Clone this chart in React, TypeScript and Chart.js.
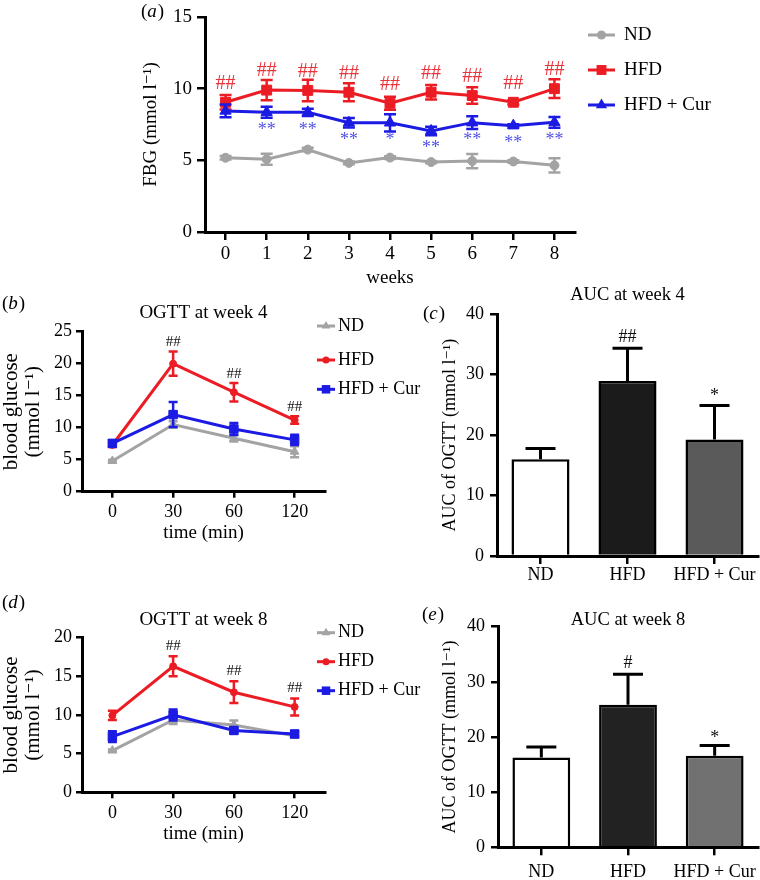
import React, { useEffect, useRef } from 'react';
import { Chart, registerables } from 'chart.js';

Chart.register(...registerables);

const FONT = '"Liberation Serif", "Times New Roman", "DejaVu Serif", serif';
Chart.defaults.font.family = FONT;

const GRAY = '#a3a3a3';
const RED = '#ec1c24';
const BLUE = '#1b1be3';
const RED_MARK = '#e8333a';
const BLUE_MARK = '#5252e6';

// ---------- (a) fasting blood glucose over weeks ----------
const weekLabels = ['0', '1', '2', '3', '4', '5', '6', '7', '8'];
const fbgND = [5.18, 5.08, 5.75, 4.82, 5.19, 4.88, 4.95, 4.92, 4.65];
const fbgNDErr = [0.12, 0.38, 0.12, 0.1, 0.1, 0.08, 0.5, 0.08, 0.5];
const fbgHFD = [9.05, 9.9, 9.88, 9.75, 8.98, 9.75, 9.52, 9.05, 10.0];
const fbgHFDErr = [0.5, 0.7, 0.75, 0.62, 0.45, 0.5, 0.58, 0.15, 0.65];
const fbgCur = [8.45, 8.35, 8.35, 7.62, 7.62, 7.05, 7.63, 7.42, 7.65];
const fbgCurErr = [0.45, 0.38, 0.25, 0.33, 0.6, 0.3, 0.45, 0.1, 0.38];
const fbgHFDSig = ['##', '##', '##', '##', '##', '##', '##', '##', '##'];
const fbgCurSig = ['', '**', '**', '**', '*', '**', '**', '**', '**'];

// ---------- (b) OGTT week 4 ----------
const timeLabels = ['0', '30', '60', '120'];
const ogtt4ND = [4.8, 10.5, 8.35, 6.25];
const ogtt4NDErr = [0.2, 0.5, 0.5, 0.85];
const ogtt4HFD = [7.3, 20.0, 15.55, 11.2];
const ogtt4HFDErr = [0.3, 1.9, 1.45, 0.6];
const ogtt4Cur = [7.55, 12.05, 9.8, 8.1];
const ogtt4CurErr = [0.5, 1.95, 0.95, 0.8];
const ogtt4HFDSig = ['', '##', '##', '##'];

// ---------- (c) AUC week 4 ----------
const groupLabels = ['ND', 'HFD', 'HFD + Cur'];
const auc4 = [16.0, 28.95, 19.3];
const auc4Err = [1.8, 5.45, 5.6];
const auc4Sig = ['', '##', '*'];

// ---------- (d) OGTT week 8 ----------
const ogtt8ND = [5.4, 9.35, 8.7, 7.3];
const ogtt8NDErr = [0.15, 0.5, 0.6, 0.2];
const ogtt8HFD = [9.95, 16.3, 12.95, 11.05];
const ogtt8HFDErr = [0.6, 1.3, 1.4, 1.1];
const ogtt8Cur = [7.2, 10.0, 8.0, 7.55];
const ogtt8CurErr = [0.7, 0.7, 0.35, 0.35];
const ogtt8HFDSig = ['', '##', '##', '##'];

// ---------- (e) AUC week 8 ----------
const auc8 = [16.3, 25.85, 16.6];
const auc8Err = [1.9, 5.55, 1.85];
const auc8Sig = ['', '#', '*'];

const legendNames = ['ND', 'HFD', 'HFD + Cur'];

type Series = {
  label: string;
  values: number[];
  errors: number[];
  color: string;
  pointStyle: string;
  radius: number;
  order: number;
};

type Mark = {
  series: number;
  texts: string[];
  color: string;
  size: number;
  dir: 'up' | 'down';
  useErr: boolean;
  gap: number;
};

type PanelSpec = {
  id: string;
  x: number;
  y: number;
  w: number;
  h: number;
  area: { l: number; t: number; r: number; b: number };
  kind: 'line' | 'bar';
  labels: string[];
  series?: Series[];
  bars?: { values: number[]; errors: number[]; colors: string[] };
  yMax: number;
  yStep: number;
  tickSize: number;
  xTickSize: number;
  yTickLen: number;
  yTickPad: number;
  xTickLen: number;
  xTickPad: number;
  yTitle: string | string[];
  yTitleSize: number;
  yTitleLH: number;
  yTitlePad: number;
  xTitle?: string;
  xTitleSize?: number;
  xTitlePadBottom?: number;
  lineWidth?: number;
  capHalf: number;
  errWidth: number;
  marks: Mark[];
  title?: { text: string; y: number; size: number };
  panel: { letter: string; x: number; y: number; size: number };
  legend?: { x1: number; x2: number; tx: number; ys: number[]; size: number; radii: number[]; styles: string[] };
};

function drawMarker(ctx: CanvasRenderingContext2D, style: string, x: number, y: number, r: number, color: string) {
  ctx.save();
  ctx.fillStyle = color;
  ctx.beginPath();
  if (style === 'circle') {
    ctx.arc(x, y, r, 0, Math.PI * 2);
  } else if (style === 'rect') {
    const s = r * Math.SQRT1_2;
    ctx.rect(x - s, y - s, 2 * s, 2 * s);
  } else {
    const a = (2 * Math.PI) / 3;
    ctx.moveTo(x, y - r);
    ctx.lineTo(x + Math.sin(a) * r, y - Math.cos(a) * r);
    ctx.lineTo(x + Math.sin(2 * a) * r, y - Math.cos(2 * a) * r);
    ctx.closePath();
  }
  ctx.fill();
  ctx.restore();
}

function drawPanelLabel(ctx: CanvasRenderingContext2D, letter: string, x: number, y: number, size: number) {
  ctx.save();
  ctx.fillStyle = '#000';
  ctx.textBaseline = 'middle';
  ctx.textAlign = 'left';
  ctx.font = `${size}px ${FONT}`;
  ctx.fillText('(', x, y);
  let cx = x + ctx.measureText('(').width;
  ctx.font = `italic ${size}px ${FONT}`;
  ctx.fillText(letter, cx, y);
  cx += ctx.measureText(letter).width + 1;
  ctx.font = `${size}px ${FONT}`;
  ctx.fillText(')', cx, y);
  ctx.restore();
}

function makePlugin(s: PanelSpec) {
  return {
    id: 'deco_' + s.id,
    afterDatasetDraw(chart: any, args: any) {
      if (s.kind !== 'line' || !s.series) return;
      const se = s.series[args.index];
      const meta = chart.getDatasetMeta(args.index);
      const ys = chart.scales.y;
      const ctx = chart.ctx as CanvasRenderingContext2D;
      ctx.save();
      ctx.strokeStyle = se.color;
      ctx.lineWidth = s.errWidth;
      meta.data.forEach((el: any, i: number) => {
        const e = se.errors[i];
        if (!e) return;
        const yt = ys.getPixelForValue(se.values[i] + e);
        const yb = ys.getPixelForValue(se.values[i] - e);
        ctx.beginPath();
        ctx.moveTo(el.x, yt);
        ctx.lineTo(el.x, yb);
        ctx.moveTo(el.x - s.capHalf, yt);
        ctx.lineTo(el.x + s.capHalf, yt);
        ctx.moveTo(el.x - s.capHalf, yb);
        ctx.lineTo(el.x + s.capHalf, yb);
        ctx.stroke();
      });
      ctx.restore();
    },
    afterDatasetsDraw(chart: any) {
      const ctx = chart.ctx as CanvasRenderingContext2D;
      const ys = chart.scales.y;
      if (s.kind === 'bar' && s.bars) {
        const meta = chart.getDatasetMeta(0);
        ctx.save();
        ctx.strokeStyle = '#000';
        ctx.lineWidth = s.errWidth;
        meta.data.forEach((el: any, i: number) => {
          const top = ys.getPixelForValue(s.bars!.values[i]);
          const yt = ys.getPixelForValue(s.bars!.values[i] + s.bars!.errors[i]);
          ctx.beginPath();
          ctx.moveTo(el.x, top);
          ctx.lineTo(el.x, yt);
          ctx.moveTo(el.x - s.capHalf, yt);
          ctx.lineTo(el.x + s.capHalf, yt);
          ctx.stroke();
        });
        ctx.restore();
      }
      // significance marks
      s.marks.forEach((m) => {
        const meta = chart.getDatasetMeta(m.series);
        ctx.save();
        ctx.fillStyle = m.color;
        ctx.font = `${m.size}px ${FONT}`;
        ctx.textAlign = 'center';
        ctx.textBaseline = 'middle';
        meta.data.forEach((el: any, i: number) => {
          const t = m.texts[i];
          if (!t) return;
          let v: number, e: number;
          if (s.kind === 'bar') {
            v = s.bars!.values[i];
            e = s.bars!.errors[i];
          } else {
            v = s.series![m.series].values[i];
            e = s.series![m.series].errors[i];
          }
          const y =
            m.dir === 'up'
              ? ys.getPixelForValue(v + (m.useErr ? e : 0)) - m.gap
              : ys.getPixelForValue(v - (m.useErr ? e : 0)) + m.gap;
          ctx.fillText(t, el.x, y);
        });
        ctx.restore();
      });
    },
    afterDraw(chart: any) {
      const ctx = chart.ctx as CanvasRenderingContext2D;
      const ca = chart.chartArea;
      if (s.title) {
        ctx.save();
        ctx.fillStyle = '#000';
        ctx.font = `${s.title.size}px ${FONT}`;
        ctx.textAlign = 'center';
        ctx.textBaseline = 'middle';
        ctx.fillText(s.title.text, (ca.left + ca.right) / 2, s.title.y);
        ctx.restore();
      }
      drawPanelLabel(ctx, s.panel.letter, s.panel.x, s.panel.y, s.panel.size);
      if (s.legend && s.series) {
        const lg = s.legend;
        legendNames.forEach((name, k) => {
          const se = s.series!.find((q) => q.label === name)!;
          const y = lg.ys[k];
          ctx.save();
          ctx.strokeStyle = se.color;
          ctx.lineWidth = s.lineWidth || 3;
          ctx.beginPath();
          ctx.moveTo(lg.x1, y);
          ctx.lineTo(lg.x2, y);
          ctx.stroke();
          ctx.restore();
          drawMarker(ctx, lg.styles[k], (lg.x1 + lg.x2) / 2, y, lg.radii[k], se.color);
          ctx.save();
          ctx.fillStyle = '#000';
          ctx.font = `${lg.size}px ${FONT}`;
          ctx.textAlign = 'left';
          ctx.textBaseline = 'middle';
          ctx.fillText(name, lg.tx, y);
          ctx.restore();
        });
      }
    },
  };
}

function buildConfig(s: PanelSpec): any {
  const a = s.area;
  const datasets =
    s.kind === 'line'
      ? s.series!.map((se) => ({
          type: 'line',
          label: se.label,
          data: se.values,
          borderColor: se.color,
          backgroundColor: se.color,
          borderWidth: s.lineWidth || 3,
          pointStyle: se.pointStyle,
          pointRadius: se.radius,
          pointBackgroundColor: se.color,
          pointBorderColor: se.color,
          pointBorderWidth: 1,
          tension: 0,
          fill: false,
          order: se.order,
        }))
      : [
          {
            type: 'bar',
            label: 'AUC',
            data: s.bars!.values,
            backgroundColor: s.bars!.colors,
            borderColor: '#000',
            borderWidth: 2.5,
            borderSkipped: 'start',
            barPercentage: 0.667,
            categoryPercentage: 1,
          },
        ];
  return {
    type: s.kind,
    data: { labels: s.labels, datasets },
    plugins: [makePlugin(s)],
    options: {
      responsive: false,
      maintainAspectRatio: false,
      animation: false,
      devicePixelRatio: 1,
      events: [],
      layout: { padding: { left: 0, top: a.t, right: s.w - a.r, bottom: 0 } },
      plugins: {
        legend: { display: false },
        tooltip: { enabled: false },
        title: { display: false },
      },
      scales: {
        x: {
          type: 'category',
          offset: true,
          grid: {
            display: true,
            drawOnChartArea: false,
            offset: false,
            tickLength: s.xTickLen,
            color: '#000',
            lineWidth: 2.5,
          },
          border: { display: true, color: '#000', width: 3 },
          ticks: {
            color: '#000',
            font: { family: FONT, size: s.xTickSize },
            padding: s.xTickPad,
            maxRotation: 0,
            minRotation: 0,
            autoSkip: false,
          },
          title: s.xTitle
            ? {
                display: true,
                text: s.xTitle,
                color: '#000',
                font: { family: FONT, size: s.xTitleSize, lineHeight: 1.2 },
                padding: { top: 0, bottom: s.xTitlePadBottom },
              }
            : { display: false },
          afterFit: (sc: any) => {
            sc.height = s.h - a.b;
            sc.paddingLeft = 0;
            sc.paddingRight = 0;
          },
        },
        y: {
          type: 'linear',
          min: 0,
          max: s.yMax,
          ticks: {
            stepSize: s.yStep,
            color: '#000',
            font: { family: FONT, size: s.tickSize },
            padding: s.yTickPad,
          },
          grid: {
            display: true,
            drawOnChartArea: false,
            tickLength: s.yTickLen,
            color: '#000',
            lineWidth: 2.5,
          },
          border: { display: true, color: '#000', width: 3 },
          title: {
            display: true,
            text: s.yTitle,
            color: '#000',
            font: { family: FONT, size: s.yTitleSize, lineHeight: s.yTitleLH },
            padding: { top: s.yTitlePad, bottom: 0 },
          },
          afterFit: (sc: any) => {
            sc.width = a.l;
            sc.paddingTop = 0;
            sc.paddingBottom = 0;
          },
        },
      },
    },
  };
}

const specA: PanelSpec = {
  id: 'a',
  x: 0,
  y: 0,
  w: 760,
  h: 290,
  area: { l: 205, t: 17, r: 575, b: 232 },
  kind: 'line',
  labels: weekLabels,
  series: [
    { label: 'HFD + Cur', values: fbgCur, errors: fbgCurErr, color: BLUE, pointStyle: 'triangle', radius: 6.5, order: 0 },
    { label: 'HFD', values: fbgHFD, errors: fbgHFDErr, color: RED, pointStyle: 'rect', radius: 7, order: 1 },
    { label: 'ND', values: fbgND, errors: fbgNDErr, color: GRAY, pointStyle: 'circle', radius: 4.5, order: 2 },
  ],
  yMax: 15,
  yStep: 5,
  tickSize: 19,
  xTickSize: 19,
  yTickLen: 8,
  yTickPad: 5,
  xTickLen: 8,
  xTickPad: 3,
  yTitle: 'FBG (mmol l⁻¹)',
  yTitleSize: 19,
  yTitleLH: 1.2,
  yTitlePad: 139.6,
  xTitle: 'weeks',
  xTitleSize: 19,
  xTitlePadBottom: 1,
  lineWidth: 3,
  capHalf: 6,
  errWidth: 2.5,
  marks: [
    { series: 1, texts: fbgHFDSig, color: RED_MARK, size: 20, dir: 'up', useErr: false, gap: 19 },
    { series: 0, texts: fbgCurSig, color: BLUE_MARK, size: 18, dir: 'down', useErr: false, gap: 17.5 },
  ],
  panel: { letter: 'a', x: 141, y: 12, size: 19 },
  legend: { x1: 588, x2: 615, tx: 624, ys: [35, 70, 105], size: 19, radii: [4.5, 7, 6.5], styles: ['circle', 'rect', 'triangle'] },
};

function ogttSeries(nd: number[], ndE: number[], hfd: number[], hfdE: number[], cur: number[], curE: number[]): Series[] {
  return [
    { label: 'HFD + Cur', values: cur, errors: curE, color: BLUE, pointStyle: 'rect', radius: 6, order: 0 },
    { label: 'HFD', values: hfd, errors: hfdE, color: RED, pointStyle: 'circle', radius: 3.5, order: 1 },
    { label: 'ND', values: nd, errors: ndE, color: GRAY, pointStyle: 'triangle', radius: 5, order: 2 },
  ];
}

const specB: PanelSpec = {
  id: 'b',
  x: 0,
  y: 290,
  w: 430,
  h: 270,
  area: { l: 82, t: 41.7, r: 325, b: 201.7 },
  kind: 'line',
  labels: timeLabels,
  series: ogttSeries(ogtt4ND, ogtt4NDErr, ogtt4HFD, ogtt4HFDErr, ogtt4Cur, ogtt4CurErr),
  yMax: 25,
  yStep: 5,
  tickSize: 18,
  xTickSize: 18,
  yTickLen: 6,
  yTickPad: 4,
  xTickLen: 6,
  xTickPad: 4,
  yTitle: ['blood glucose', '(mmol l⁻¹)'],
  yTitleSize: 21,
  yTitleLH: 1.05,
  yTitlePad: 0,
  xTitle: 'time (min)',
  xTitleSize: 19,
  xTitlePadBottom: 15.6,
  lineWidth: 3,
  capHalf: 4.5,
  errWidth: 2.5,
  marks: [{ series: 1, texts: ogtt4HFDSig, color: '#111', size: 15, dir: 'up', useErr: true, gap: 9 }],
  title: { text: 'OGTT at week 4', y: 23, size: 19 },
  panel: { letter: 'b', x: 2, y: 14, size: 19 },
  legend: { x1: 317, x2: 335, tx: 338, ys: [36, 70, 99.3], size: 18, radii: [5, 3.5, 6], styles: ['triangle', 'circle', 'rect'] },
};

const specC: PanelSpec = {
  id: 'c',
  x: 400,
  y: 280,
  w: 360,
  h: 310,
  area: { l: 97, t: 34.3, r: 358, b: 276 },
  kind: 'bar',
  labels: groupLabels,
  bars: { values: auc4, errors: auc4Err, colors: ['#ffffff', '#1b1b1b', '#5a5a5a'] },
  yMax: 40,
  yStep: 10,
  tickSize: 18,
  xTickSize: 18,
  yTickLen: 7,
  yTickPad: 6,
  xTickLen: 8,
  xTickPad: 0,
  yTitle: 'AUC of OGTT (mmol l⁻¹)',
  yTitleSize: 18,
  yTitleLH: 1.2,
  yTitlePad: 39.2,
  capHalf: 15,
  errWidth: 3,
  marks: [
    { series: 0, texts: auc4Sig.map((t) => (t === '##' ? t : '')), color: '#111', size: 18, dir: 'up', useErr: true, gap: 11 },
    { series: 0, texts: auc4Sig.map((t) => (t === '*' ? t : '')), color: '#111', size: 18, dir: 'up', useErr: true, gap: 9.5 },
  ],
  title: { text: 'AUC at week 4', y: 15, size: 18.5 },
  panel: { letter: 'c', x: 23, y: 34, size: 19 },
};

const specD: PanelSpec = {
  ...specB,
  id: 'd',
  x: 0,
  y: 580,
  w: 430,
  h: 300,
  area: { l: 82, t: 57.7, r: 325, b: 212.3 },
  series: ogttSeries(ogtt8ND, ogtt8NDErr, ogtt8HFD, ogtt8HFDErr, ogtt8Cur, ogtt8CurErr),
  yMax: 20,
  yStep: 5,
  xTitlePadBottom: 34.6,
  marks: [{ series: 1, texts: ogtt8HFDSig, color: '#111', size: 15, dir: 'up', useErr: true, gap: 10.5 }],
  title: { text: 'OGTT at week 8', y: 40, size: 19 },
  panel: { letter: 'd', x: 2, y: 23, size: 19 },
  legend: { x1: 317, x2: 335, tx: 338, ys: [52.7, 81.7, 110.7], size: 18, radii: [5, 3.5, 6], styles: ['triangle', 'circle', 'rect'] },
};

const specE: PanelSpec = {
  ...specC,
  id: 'e',
  x: 400,
  y: 580,
  w: 360,
  h: 300,
  area: { l: 98, t: 46.7, r: 358, b: 267.3 },
  bars: { values: auc8, errors: auc8Err, colors: ['#ffffff', '#222222', '#717171'] },
  xTickPad: 6,
  marks: [
    { series: 0, texts: auc8Sig.map((t) => (t === '#' ? t : '')), color: '#111', size: 18, dir: 'up', useErr: true, gap: 11 },
    { series: 0, texts: auc8Sig.map((t) => (t === '*' ? t : '')), color: '#111', size: 18, dir: 'up', useErr: true, gap: 7 },
  ],
  title: { text: 'AUC at week 8', y: 40, size: 18.5 },
  panel: { letter: 'e', x: 22, y: 35, size: 19 },
};

function Panel({ spec }: { spec: PanelSpec }) {
  const ref = useRef<HTMLCanvasElement>(null);
  useEffect(() => {
    const chart = new Chart(ref.current as HTMLCanvasElement, buildConfig(spec));
    return () => chart.destroy();
  }, [spec]);
  return (
    <canvas
      ref={ref}
      width={spec.w}
      height={spec.h}
      style={{ position: 'absolute', left: spec.x, top: spec.y, width: spec.w, height: spec.h }}
    />
  );
}

export default function App() {
  return (
    <div style={{ position: 'absolute', left: 0, top: 0, width: 760, height: 880, background: '#fff', overflow: 'hidden' }}>
      <Panel spec={specA} />
      <Panel spec={specB} />
      <Panel spec={specC} />
      <Panel spec={specD} />
      <Panel spec={specE} />
    </div>
  );
}
